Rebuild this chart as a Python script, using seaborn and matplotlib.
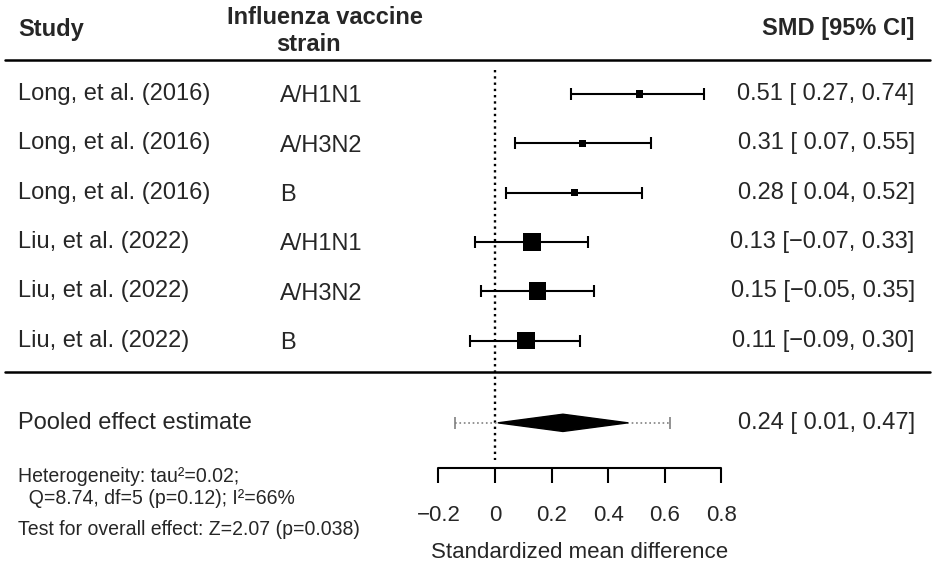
import numpy as np
import pandas as pd
import matplotlib
matplotlib.use("Agg")
import matplotlib.pyplot as plt
import seaborn as sns

# dati del forest plot
studi = ["Long, et al. (2016)", "Long, et al. (2016)", "Long, et al. (2016)",
         "Liu, et al. (2022)", "Liu, et al. (2022)", "Liu, et al. (2022)"]
ceppi = ["A/H1N1", "A/H3N2", "B", "A/H1N1", "A/H3N2", "B"]
smd = [0.51, 0.31, 0.28, 0.13, 0.15, 0.11]
ci_basso = [0.27, 0.07, 0.04, -0.07, -0.05, -0.09]
ci_alto = [0.74, 0.55, 0.52, 0.33, 0.35, 0.30]
pesi = [5.0, 5.0, 5.0, 28.3, 28.3, 28.3]

pooled = 0.24
pooled_basso = 0.01
pooled_alto = 0.47
pred_basso = -0.14
pred_alto = 0.62

tick_valori = [-0.2, 0, 0.2, 0.4, 0.6, 0.8]
tick_etichette = ["\u22120.2", "0", "0.2", "0.4", "0.6", "0.8"]


def fmt(v):
    s = f"{abs(v):.2f}"
    return ("\u2212" + s) if v < 0 else s


def fmt_ci(e, lo, hi):
    lo_s = fmt(lo)
    if lo >= 0:
        lo_s = " " + lo_s
    return f"{fmt(e)} [{lo_s}, {fmt(hi)}]"


df = pd.DataFrame({"studio": studi, "ceppo": ceppi, "smd": smd,
                   "basso": ci_basso, "alto": ci_alto, "peso": pesi})
df["riga"] = np.arange(len(df))

sns.set_style("white")
plt.rcParams["font.family"] = ["Liberation Sans", "DejaVu Sans"]

fig = plt.figure(figsize=(9.35, 5.66), dpi=100)
ax = fig.add_axes([0, 0, 1, 1])
ax.set_xlim(-495 / 283, 440 / 283)
ax.set_ylim(9.574, -1.907)
ax.axis("off")

fs = 17
fs_asse = 16
fs_small = 14.05
x_studio = -1.686
x_ceppo = -0.760
x_ci = 1.483

# intestazione
ax.text(x_studio, -1.30, "Study", fontsize=fs, fontweight="bold", ha="left", va="center")
ax.text(-0.60, -1.55, "Influenza vaccine", fontsize=fs, fontweight="bold", ha="center", va="center")
ax.text(-0.66, -1.0, "strain", fontsize=fs, fontweight="bold", ha="center", va="center")
ax.text(x_ci, -1.33, "SMD [95% CI]", fontsize=fs, fontweight="bold", ha="right", va="center")
ax.axhline(-0.69, xmin=5 / 935, xmax=930 / 935, color="black", lw=1.8)
ax.axhline(5.64, xmin=5 / 935, xmax=930 / 935, color="black", lw=1.8)

# linea di riferimento
ax.plot([0, 0], [-0.49, 7.42], ls=":", color="black", lw=1.7)

# intervalli di confidenza e quadrati
ax.errorbar(df["smd"], df["riga"], xerr=[df["smd"] - df["basso"], df["alto"] - df["smd"]],
            fmt="none", ecolor="black", elinewidth=1.5, capsize=4, capthick=1.5)
sns.scatterplot(data=df, x="smd", y="riga", size="peso", sizes=(26, 165), marker="s",
                color="black", linewidth=0, legend=False, ax=ax, zorder=3)

for _, r in df.iterrows():
    ax.text(x_studio, r["riga"], r["studio"], fontsize=fs, ha="left", va="center")
    ax.text(x_ceppo, r["riga"] + 0.05, r["ceppo"], fontsize=fs, ha="left", va="center")
    ax.text(x_ci, r["riga"], fmt_ci(r["smd"], r["basso"], r["alto"]), fontsize=fs, ha="right", va="center")

# effetto aggregato
y_pool = 6.67
ax.plot([pred_basso, pred_alto], [y_pool, y_pool], ls=":", color="grey", lw=1.2)
ax.plot([pred_basso, pred_alto], [y_pool, y_pool], ls="none", marker="|", markersize=8,
        color="grey", markeredgewidth=1.2)
h = 0.175
ax.fill([pooled_basso, pooled, pooled_alto, pooled], [y_pool, y_pool - h, y_pool, y_pool + h],
        color="black", zorder=4)
ax.text(x_studio, y_pool, "Pooled effect estimate", fontsize=fs, ha="left", va="center")
ax.text(x_ci, y_pool, fmt_ci(pooled, pooled_basso, pooled_alto), fontsize=fs, ha="right", va="center")

# statistiche
ax.text(x_studio, 7.75, "Heterogeneity: tau\u00b2=0.02;", fontsize=fs_small, ha="left", va="center")
ax.text(x_studio, 8.20, "  Q=8.74, df=5 (p=0.12); I\u00b2=66%", fontsize=fs_small, ha="left", va="center")
ax.text(x_studio, 8.83, "Test for overall effect: Z=2.07 (p=0.038)", fontsize=fs_small, ha="left", va="center")

# asse x disegnato a mano
y_asse = 7.59
ax.plot([tick_valori[0], tick_valori[-1]], [y_asse, y_asse], color="black", lw=1.5)
ax.vlines(tick_valori, y_asse, y_asse + 0.30, color="black", lw=1.5)
for v, t in zip(tick_valori, tick_etichette):
    ax.text(v, 8.55, t, fontsize=fs_asse, ha="center", va="center")
ax.text(0.3, 9.30, "Standardized mean difference", fontsize=fs_asse, ha="center", va="center")

fig.savefig("out.png", dpi=100)
